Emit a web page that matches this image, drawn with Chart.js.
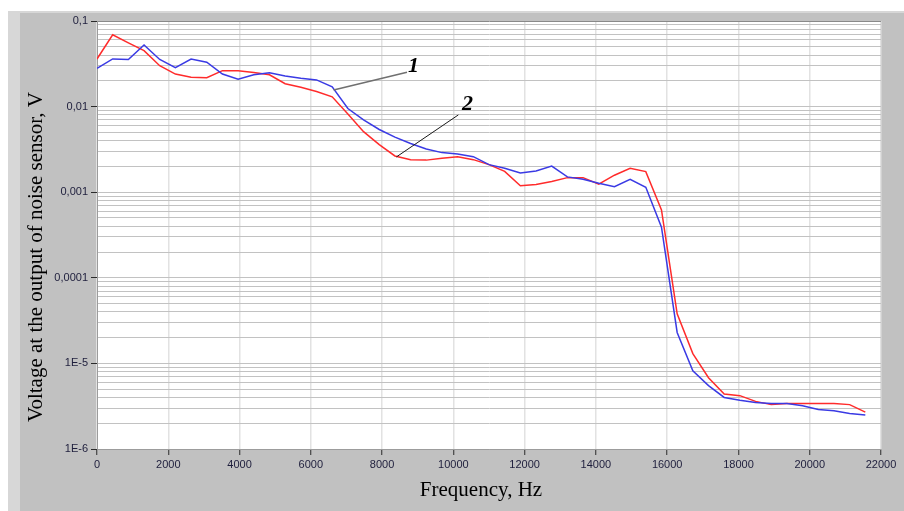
<!DOCTYPE html>
<html>
<head>
<meta charset="utf-8">
<script src="https://cdn.jsdelivr.net/npm/chart.js@4.4.1/dist/chart.umd.min.js"></script>
<style>
  html, body { margin: 0; padding: 0; background: #fff; }
  canvas { display: block; }
</style>
</head>
<body>
<canvas id="noiseChart" width="904" height="511"></canvas>
<script>
// frequency of each measured point, Hz
const freqHz = [
  0, 440, 880, 1320, 1760, 2200, 2640, 3080, 3520, 3960,
  4400, 4840, 5280, 5720, 6160, 6600, 7040, 7480, 7920, 8360,
  8800, 9240, 9680, 10120, 10560, 11000, 11440, 11880, 12320, 12760,
  13200, 13640, 14080, 14520, 14960, 15400, 15840, 16280, 16720, 17160,
  17600, 18040, 18480, 18920, 19360, 19800, 20240, 20680, 21120, 21560
];

// curve 1 (blue), V
const sensor1 = [
  0.028, 0.036, 0.0355, 0.0525, 0.0355, 0.0285, 0.036, 0.033, 0.024, 0.0209,
  0.0235, 0.0249, 0.0228, 0.0215, 0.0205, 0.017, 0.0095, 0.007, 0.0054, 0.0044,
  0.0037, 0.0032, 0.0029, 0.0028, 0.0026, 0.0021, 0.0019, 0.00168, 0.00177, 0.00202,
  0.00151, 0.00142, 0.00127, 0.00116, 0.00141, 0.00114, 0.00039, 0.000023, 0.0000082, 0.0000055,
  0.000004, 0.0000037, 0.0000035, 0.0000034, 0.0000034, 0.0000032, 0.0000029, 0.0000028, 0.0000026, 0.0000025
];

// curve 2 (red), V
const sensor2 = [
  0.036, 0.069, 0.0556, 0.045, 0.03, 0.024, 0.022, 0.0217, 0.0263, 0.0263,
  0.025, 0.0235, 0.0185, 0.0168, 0.015, 0.013, 0.0082, 0.0051, 0.0036, 0.00265,
  0.0024, 0.00237, 0.0025, 0.0026, 0.0024, 0.0021, 0.00175, 0.00119, 0.00123, 0.00133,
  0.00148, 0.00148, 0.00124, 0.00158, 0.0019, 0.00174, 0.00062, 0.000038, 0.000013, 0.0000068,
  0.0000044, 0.0000042, 0.0000036, 0.0000033, 0.0000034, 0.0000034, 0.0000034, 0.0000034, 0.0000033, 0.0000027
];

const yDecades = [1e-6, 1e-5, 1e-4, 1e-3, 1e-2, 1e-1];
const yTickLabels = ['1E-6', '1E-5', '0,0001', '0,001', '0,01', '0,1'];

// numbered callouts: leader line from a point on the curve to the label
const callouts = [
  { text: '1', from: [6640, 0.0156], to: [8700, 0.0252], at: [8880, 0.0292], color: '#707070', width: 1.6 },
  { text: '2', from: [8400, 0.00258], to: [10140, 0.0080], at: [10400, 0.0105], color: '#1a1a1a', width: 1 }
];

// minor grid: 1..9 in every decade
const yGrid = [];
yDecades.forEach((d, i) => {
  if (i === yDecades.length - 1) { yGrid.push(d); return; }
  for (let m = 1; m <= 9; m++) yGrid.push(Number((m * d).toPrecision(3)));
});

const decadeIndex = (v) => {
  const e = Math.log10(v);
  if (Math.abs(e - Math.round(e)) > 1e-6) return -1;
  return Math.round(e) + 6;
};

const panelBg = {
  id: 'panelBg',
  beforeDraw(chart) {
    const { ctx, width, height, chartArea } = chart;
    ctx.save();
    ctx.fillStyle = '#ffffff';
    ctx.fillRect(0, 0, width, height);
    ctx.fillStyle = '#d7d7d7';
    ctx.fillRect(8, 11, width - 8, height - 11);
    ctx.fillStyle = '#c1c1c1';
    ctx.fillRect(20, 13, width - 20, height - 13);
    ctx.fillStyle = '#ffffff';
    ctx.fillRect(chartArea.left, chartArea.top, chartArea.right - chartArea.left, chartArea.bottom - chartArea.top);
    ctx.restore();
  }
};

const extras = {
  id: 'extras',
  afterDraw(chart) {
    const { ctx } = chart;
    const xs = chart.scales.x, ys = chart.scales.y;
    ctx.save();
    callouts.forEach(c => {
      ctx.beginPath();
      ctx.strokeStyle = c.color;
      ctx.lineWidth = c.width;
      ctx.moveTo(xs.getPixelForValue(c.from[0]), ys.getPixelForValue(c.from[1]));
      ctx.lineTo(xs.getPixelForValue(c.to[0]), ys.getPixelForValue(c.to[1]));
      ctx.stroke();
      ctx.fillStyle = '#000';
      ctx.font = 'bold italic 22px "Liberation Serif", serif';
      ctx.textAlign = 'center';
      ctx.textBaseline = 'middle';
      ctx.fillText(c.text, xs.getPixelForValue(c.at[0]), ys.getPixelForValue(c.at[1]));
    });

    ctx.fillStyle = '#000';
    ctx.font = '21px "Liberation Serif", serif';
    ctx.textAlign = 'center';
    ctx.textBaseline = 'middle';
    ctx.fillText('Frequency, Hz', 481, 490);
    ctx.translate(36, 257);
    ctx.rotate(-Math.PI / 2);
    ctx.fillText('Voltage at the output of noise sensor, V', 0, 0);
    ctx.restore();
  }
};

new Chart(document.getElementById('noiseChart'), {
  type: 'line',
  data: {
    datasets: [
      {
        label: '1',
        data: freqHz.map((f, i) => ({ x: f, y: sensor1[i] })),
        borderColor: '#3a3ae4',
        borderWidth: 1.5,
        pointRadius: 0,
        tension: 0,
        fill: false
      },
      {
        label: '2',
        data: freqHz.map((f, i) => ({ x: f, y: sensor2[i] })),
        borderColor: '#ff2b2b',
        borderWidth: 1.5,
        pointRadius: 0,
        tension: 0,
        fill: false
      }
    ]
  },
  options: {
    responsive: false,
    animation: false,
    layout: { padding: { left: 0, top: 21, right: 23, bottom: 0 } },
    plugins: {
      legend: { display: false },
      tooltip: { enabled: false }
    },
    scales: {
      x: {
        type: 'linear',
        min: 0,
        max: 22000,
        afterFit: (s) => { s.height = 62; },
        border: { color: '#9c9c9c', width: 1 },
        grid: { color: '#e2e2e2', lineWidth: 1.5, tickColor: '#2a2a2a', tickLength: 6, tickWidth: 1 },
        ticks: {
          stepSize: 2000,
          autoSkip: false,
          maxRotation: 0,
          padding: 3,
          color: '#1e1e3c',
          font: { family: 'Liberation Sans', size: 11 },
          callback: (v) => String(v)
        }
      },
      y: {
        type: 'logarithmic',
        min: 1e-6,
        max: 0.1,
        afterBuildTicks: (s) => { s.ticks = yGrid.map(v => ({ value: v })); },
        afterFit: (s) => { s.width = 97; },
        border: { color: '#9c9c9c', width: 1 },
        grid: {
          color: (c) => (c.tick && c.tick.value >= 0.1 ? '#8a8a8a' : '#c2c2c2'),
          lineWidth: 1,
          tickColor: (c) => (c.tick && decadeIndex(c.tick.value) >= 0 ? '#2a2a2a' : 'rgba(0,0,0,0)'),
          tickLength: 6,
          tickWidth: 1
        },
        ticks: {
          autoSkip: false,
          padding: 3,
          color: '#1e1e3c',
          font: { family: 'Liberation Sans', size: 11 },
          callback: (v) => {
            const k = decadeIndex(v);
            return k >= 0 ? yTickLabels[k] : '';
          }
        }
      }
    }
  },
  plugins: [panelBg, extras]
});
</script>
</body>
</html>
